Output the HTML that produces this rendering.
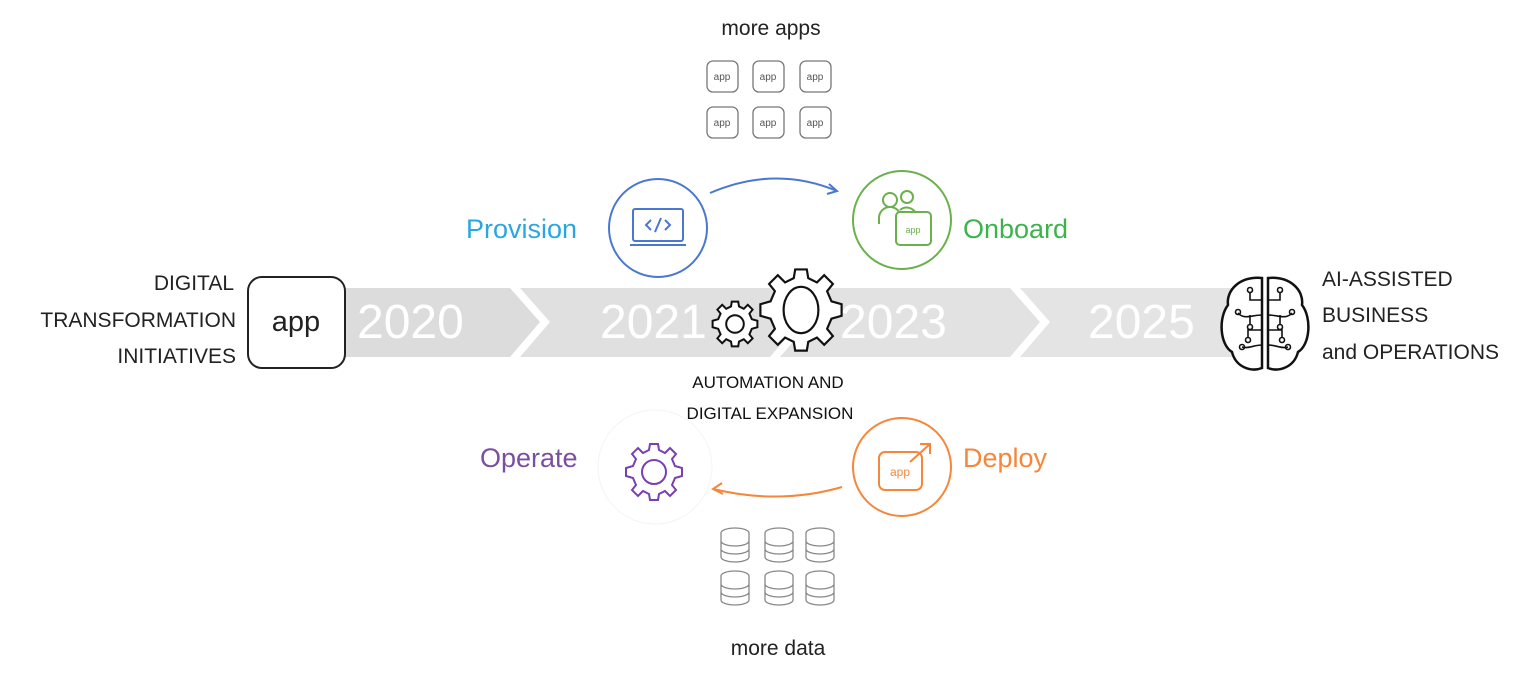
<!DOCTYPE html>
<html><head><meta charset="utf-8"><style>
body{margin:0;background:#fff;width:1533px;height:681px;overflow:hidden;font-family:"Liberation Sans",sans-serif}
svg{position:absolute;left:0;top:0}
</style></head><body>
<svg width="1533" height="681" viewBox="0 0 1533 681" font-family="Liberation Sans, sans-serif">
<!-- band -->
<polygon points="270,288 510,288 540,322 510,357 270,357 300,322" fill="#dcdcdc"/>
<polygon points="520,288 770,288 800,322 770,357 520,357 550,322" fill="#e0e0e0"/>
<polygon points="780,288 1010,288 1040,322 1010,357 780,357 810,322" fill="#e2e2e2"/>
<polygon points="1020,288 1235,288 1235,357 1020,357 1050,322" fill="#e4e4e4"/>
<g fill="#fff" font-size="48">
<text x="357" y="338">2020</text><text x="600" y="338">2021</text>
<text x="840" y="338">2023</text><text x="1088" y="338">2025</text></g>
<!-- app box -->
<rect x="248" y="277" width="97" height="91" rx="14" fill="#fff" stroke="#222" stroke-width="2"/>
<text x="296" y="331" font-size="29" text-anchor="middle" fill="#222">app</text>
<g font-size="21" fill="#222" text-anchor="end">
<text x="234" y="290">DIGITAL</text><text x="236" y="327">TRANSFORMATION</text><text x="236" y="363">INITIATIVES</text></g>
<g font-size="21" fill="#222">
<text x="1322" y="286">AI-ASSISTED</text><text x="1322" y="322">BUSINESS</text><text x="1322" y="359">and OPERATIONS</text></g>
<g font-size="17" fill="#111" text-anchor="middle">
<text x="768" y="388">AUTOMATION AND</text><text x="770" y="419">DIGITAL  EXPANSION</text></g>
<!-- more apps -->
<text x="771" y="35" font-size="21" text-anchor="middle" fill="#222">more apps</text>
<g fill="#fff" stroke="#777" stroke-width="1.3">
<rect x="707" y="61" width="31" height="31" rx="6"/><rect x="753" y="61" width="31" height="31" rx="6"/><rect x="800" y="61" width="31" height="31" rx="6"/>
<rect x="707" y="107" width="31" height="31" rx="6"/><rect x="753" y="107" width="31" height="31" rx="6"/><rect x="800" y="107" width="31" height="31" rx="6"/></g>
<g font-size="10" fill="#555" text-anchor="middle">
<text x="722" y="80">app</text><text x="768" y="80">app</text><text x="815" y="80">app</text>
<text x="722" y="126">app</text><text x="768" y="126">app</text><text x="815" y="126">app</text></g>
<!-- provision -->
<circle cx="658" cy="228" r="49" fill="none" stroke="#4a78d0" stroke-width="2"/>
<g stroke="#4a78d0" stroke-width="2" fill="none">
<rect x="633" y="209" width="50" height="32" rx="2"/><path d="M630 245 H686"/>
<path d="M651 220 l-5 5 5 5 M665 220 l5 5 -5 5 M661 218 l-6 14"/>
<path d="M710 193 Q775 165 837 191"/><path d="M829 184 l8 7 -10 3"/></g>
<text x="466" y="238" font-size="27" fill="#2aa6e0">Provision</text>
<!-- onboard -->
<circle cx="902" cy="220" r="49" fill="none" stroke="#6ab04c" stroke-width="2"/>
<g stroke="#6ab04c" stroke-width="2" fill="none">
<circle cx="890" cy="200" r="7"/><circle cx="907" cy="197" r="6"/>
<path d="M879 224 v-6 a11 11 0 0 1 22 0"/><path d="M900 210 a10 10 0 0 1 16 4"/>
<rect x="896" y="212" width="35" height="33" rx="4" fill="#fff"/></g>
<text x="913" y="233" font-size="9" fill="#6ab04c" text-anchor="middle">app</text>
<text x="963" y="238" font-size="27" fill="#3cb44b">Onboard</text>
<!-- deploy -->
<circle cx="902" cy="467" r="49" fill="none" stroke="#f5863a" stroke-width="2"/>
<g stroke="#f5863a" stroke-width="2" fill="none">
<rect x="879" y="452" width="43" height="38" rx="6"/><path d="M910 462 L930 444 M920 444 h10 v10"/>
<path d="M842 487 Q780 505 713 489"/><path d="M722 483 l-9 6 10 5"/></g>
<text x="900" y="476" font-size="12" fill="#f5863a" text-anchor="middle">app</text>
<text x="963" y="467" font-size="27" fill="#f5863a">Deploy</text>
<!-- operate -->
<circle cx="655" cy="467" r="57" fill="none" stroke="#f4f4f4" stroke-width="1"/>
<g transform="translate(654,472)" fill="none" stroke="#7a3fb0" stroke-width="2">
<path id="g1" d="M-4,-28 L4,-28 L5,-22 L11,-19 L16,-24 L22,-18 L18,-13 L21,-6 L28,-4 L28,4 L21,6 L18,13 L22,18 L16,24 L11,19 L5,22 L4,28 L-4,28 L-5,22 L-11,19 L-16,24 L-22,18 L-18,13 L-21,6 L-28,4 L-28,-4 L-21,-6 L-18,-13 L-22,-18 L-16,-24 L-11,-19 L-5,-22 Z"/>
<circle r="12"/></g>
<text x="480" y="467" font-size="27" fill="#7b4fa0">Operate</text>
<!-- gears -->
<g transform="translate(735,324) scale(0.8)" fill="#fff" stroke="#111" stroke-width="2.5"><use href="#g1"/><circle r="11" fill="none"/></g>
<g transform="translate(801,310) scale(1.45)" fill="#fff" stroke="#111" stroke-width="1.5"><use href="#g1"/><ellipse rx="12" ry="16" fill="none"/></g>
<!-- dbs -->
<g fill="#fff" stroke="#888" stroke-width="1.3">
<g id="db"><ellipse cx="735" cy="533" rx="14" ry="5"/><path d="M721 533 v24 a14 5 0 0 0 28 0 v-24 M721 541 a14 5 0 0 0 28 0 M721 549 a14 5 0 0 0 28 0"/></g>
<use href="#db" x="44"/><use href="#db" x="85"/>
<use href="#db" y="43"/><use href="#db" x="44" y="43"/><use href="#db" x="85" y="43"/></g>
<text x="778" y="655" font-size="21" text-anchor="middle" fill="#222">more data</text>
<!-- brain -->
<g fill="#fff" stroke="#111" stroke-width="2.5">
<path d="M1262 278 C1240 276 1226 290 1228 305 C1218 318 1220 345 1232 352 C1236 368 1252 372 1262 368 Z"/>
<path d="M1268 278 C1290 276 1304 290 1302 305 C1312 318 1310 345 1298 352 C1294 368 1278 372 1268 368 Z"/></g>
<g fill="none" stroke="#111" stroke-width="1.6">
<path d="M1262 300 h-12 v-8 M1262 315 c-10 0 -18 5 -24 -2 M1262 330 h-14 v8 M1262 345 c-8 0 -14 4 -20 2 M1250 315 v10 M1268 300 h12 v-8 M1268 315 c10 0 18 5 24 -2 M1268 330 h14 v8 M1268 345 c8 0 14 4 20 2 M1280 315 v10"/>
<circle cx="1250" cy="290" r="2.5"/><circle cx="1238" cy="312" r="2.5"/><circle cx="1248" cy="340" r="2.5"/><circle cx="1242" cy="347" r="2.5"/><circle cx="1250" cy="327" r="2.5"/>
<circle cx="1280" cy="290" r="2.5"/><circle cx="1292" cy="312" r="2.5"/><circle cx="1282" cy="340" r="2.5"/><circle cx="1288" cy="347" r="2.5"/><circle cx="1280" cy="327" r="2.5"/></g>
</svg>
</body></html>
